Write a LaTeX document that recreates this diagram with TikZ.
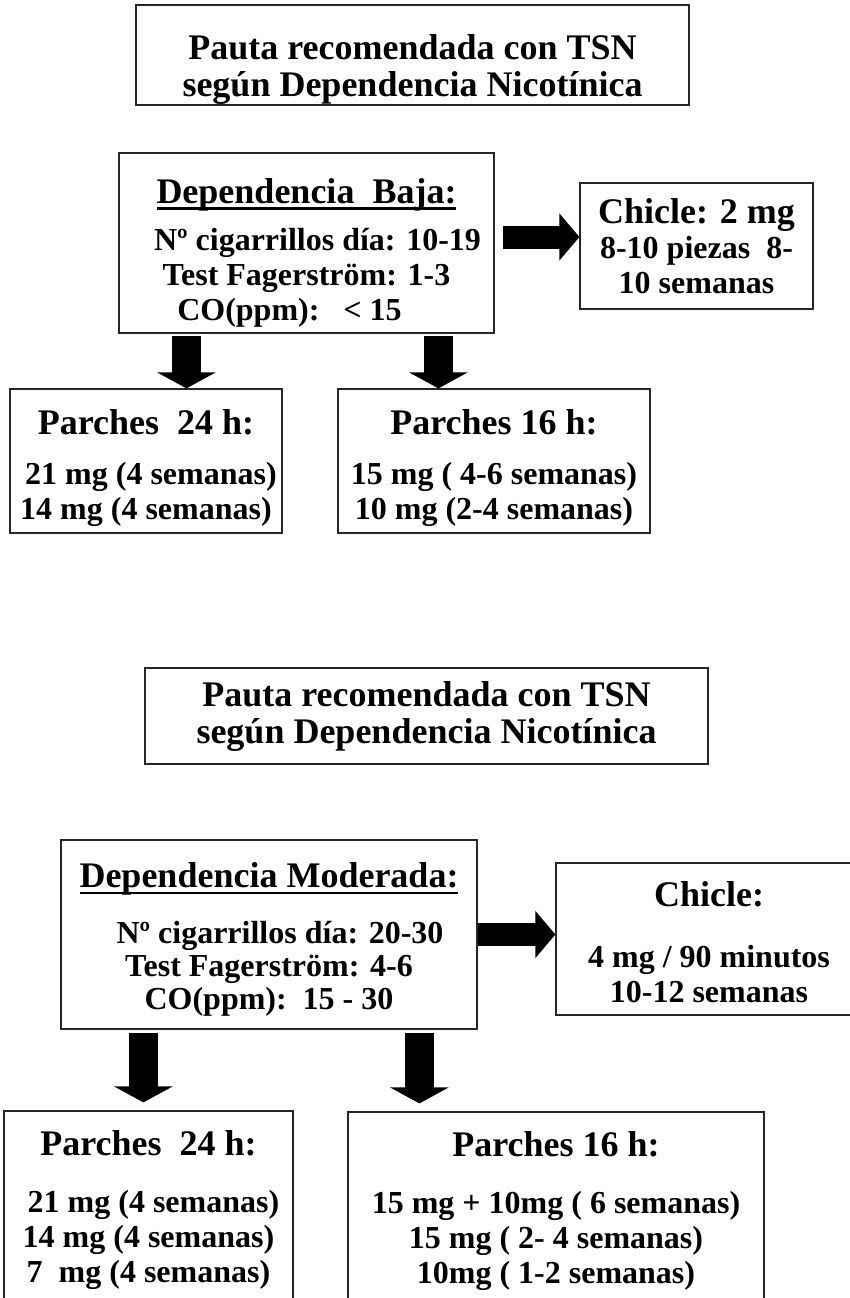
\documentclass[tikz,border=0pt]{standalone}
\usepackage{fontspec}
\setmainfont{Liberation Serif}
\usetikzlibrary{arrows.meta}
\newsavebox\headbox
\newcommand{\headul}[1]{\sbox\headbox{#1}\rlap{\rule[-7pt]{\wd\headbox}{2.6pt}}\usebox\headbox}
\newcommand{\hd}{\fontsize{36}{38}\selectfont}
\newcommand{\lift}[1]{\rule{0pt}{#1}}
\tikzset{
  box/.style = {draw=black!85, line width=1.2pt, rectangle, inner sep=0pt,
                align=center, font=\bfseries\fontsize{32}{35}\selectfont},
  title box/.style = {box, font=\bfseries\fontsize{36}{37}\selectfont},
  down arrow/.style = {line width=29pt, -{Triangle[width=58pt,length=16pt]}},
  side arrow/.style = {line width=23pt, -{Triangle[width=46pt,length=20pt]}},
}
\begin{document}
\begin{tikzpicture}[x=1pt,y=-1pt]
\useasboundingbox (0,0) rectangle (849,1298);
% baja
\node[title box, minimum width=553pt, minimum height=100pt] (tit1) at (412.5,55)
  {\lift{53pt}Pauta recomendada con TSN\\según Dependencia Nicotínica};
\node[box, minimum width=375pt, minimum height=180pt] (baja) at (306.5,243)
  {{\hd\lift{44pt}\headul{Dependencia\ \ Baja:}}\\[12pt]
   \hspace*{22pt}Nº cigarrillos día: 10-19\\
   Test Fagerström: 1-3\hspace*{22pt}\\
   CO(ppm):\ \ \ < 15\hspace*{34pt}};
\node[box, minimum width=233pt, minimum height=126pt] (chicle1) at (696.5,246)
  {{\hd Chicle: 2 mg}\\8-10 piezas\ \ 8-\\10 semanas};
\node[box, minimum width=272pt, minimum height=144pt] (p24a) at (146,461)
  {{\hd\lift{40pt}Parches\ \ 24 h:}\\[15pt]\hspace*{10pt}21 mg (4 semanas)\\14 mg (4 semanas)};
\node[box, minimum width=312pt, minimum height=144pt] (p16a) at (494,461)
  {{\hd\lift{40pt}Parches 16 h:}\\[15pt]15 mg ( 4-6 semanas)\\10 mg (2-4 semanas)};
\coordinate (b1) at ([xshift=68pt]baja.south west);
\coordinate (b2) at ([xshift=320pt]baja.south west);
\coordinate (b3) at ([xshift=8pt,yshift=6pt]baja.east);
\draw[down arrow] ([yshift=-2pt]b1) -- (b1 |- p24a.north);
\draw[down arrow] ([yshift=-2pt]b2) -- (b2 |- p16a.north);
\draw[side arrow] (b3) -- (b3 -| chicle1.west);
% moderada
\node[title box, minimum width=563pt, minimum height=96pt] (tit2) at (426.5,716)
  {Pauta recomendada con TSN\\según Dependencia Nicotínica};
\node[box, minimum width=416pt, minimum height=189pt,
      font=\bfseries\fontsize{32}{33}\selectfont] (mod) at (269,934.5)
  {{\hd\lift{34pt}\headul{Dependencia Moderada:}}\\[23pt]
   \hspace*{22pt}Nº cigarrillos día: 20-30\\
   Test Fagerström: 4-6\\
   CO(ppm):\ \ 15 - 30};
\node[box, minimum width=306pt, minimum height=152pt] (chicle2) at (709,939)
  {{\hd\lift{32pt}Chicle:}\\[26pt]4 mg / 90 minutos\\10-12 semanas};
\node[box, minimum width=289pt, minimum height=199pt] (p24b) at (148.5,1210.5)
  {{\hd Parches\ \ 24 h:}\\[22pt]\hspace*{10pt}21 mg (4 semanas)\\14 mg (4 semanas)\\7\ \ mg (4 semanas)};
\node[box, minimum width=416pt, minimum height=198pt] (p16b) at (556,1211)
  {{\hd Parches 16 h:}\\[22pt]15 mg + 10mg ( 6 semanas)\\15 mg ( 2- 4 semanas)\\10mg ( 1-2 semanas)};
\coordinate (m1) at ([xshift=83pt]mod.south west);
\coordinate (m2) at ([xshift=359pt]mod.south west);
\draw[down arrow] ([yshift=-3pt]m1) -- ([yshift=8pt]m1 |- p24b.north);
\draw[down arrow] ([yshift=-3pt]m2) -- ([yshift=8pt]m2 |- p16b.north);
\draw[side arrow] (mod.east) -- (mod.east -| chicle2.west);
\end{tikzpicture}
\end{document}
